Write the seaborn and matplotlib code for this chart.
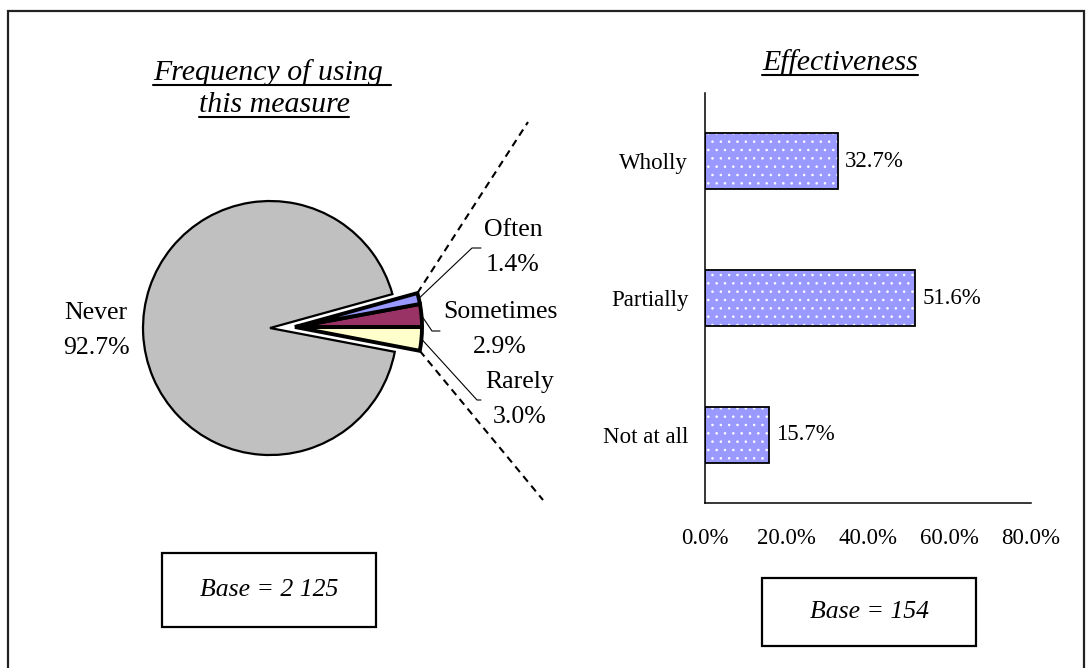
import numpy as np
import pandas as pd
import seaborn as sns
import matplotlib.pyplot as plt
from matplotlib.patches import Rectangle

# pie: frequency of using this measure (drawing order, counter-clockwise)
pie_categories = ["Rarely", "Sometimes", "Often", "Never"]
pie_values = [3.0, 2.9, 1.4, 92.7]
pie_colors = ["#FFFFCC", "#993366", "#9999FF", "#C0C0C0"]

# bars: effectiveness
bar_categories = ["Wholly", "Partially", "Not at all"]
bar_values = [32.7, 51.6, 15.7]
x_ticks = [0, 20, 40, 60, 80]

base_left = "Base = 2 125"
base_right = "Base = 154"

sns.set_theme(style="white")
plt.rcParams["font.family"] = ["Liberation Serif", "DejaVu Sans"]
plt.rcParams["text.color"] = "black"
plt.rcParams["xtick.color"] = "black"
plt.rcParams["ytick.color"] = "black"
plt.rcParams["xtick.labelcolor"] = "black"
plt.rcParams["ytick.labelcolor"] = "black"
plt.rcParams["hatch.linewidth"] = 0.6

W, H = 1086, 668
fig = plt.figure(figsize=(W / 100, H / 100), dpi=100)
fig.patch.set_facecolor("white")


def Y(y):
    # pixel row from top -> data y from bottom
    return H - y


bg = fig.add_axes([0, 0, 1, 1])
wedges, _ = bg.pie(pie_values, colors=pie_colors, startangle=-10.8,
                   center=(295, Y(327)), radius=127,
                   explode=[0, 0, 0, 25],
                   wedgeprops=dict(edgecolor="black", linewidth=1.6))
for w in wedges[:3]:
    w.set_linewidth(2.8)
    w.set_joinstyle("miter")
bg.set_xlim(0, W)
bg.set_ylim(0, H)
bg.axis("off")

# outer frame
bg.add_patch(Rectangle((8, -20), 1076, Y(11) + 20, fill=False,
                       edgecolor="#222222", lw=1.6))

# labels with leader lines
lab_fs = 18.5
label_pos = {"Often": (513, 230), "Sometimes": (500, 312),
             "Rarely": (520, 382), "Never": (96, 313)}
leader_elbow = {"Often": [(472, 248), (481, 248)],
                "Sometimes": [(432, 331), (440, 331)],
                "Rarely": [(477, 400), (481, 400)]}
for w, cat, val in zip(wedges, pie_categories, pie_values):
    lx, ly = label_pos[cat]
    bg.text(lx, Y(ly), cat, ha="center", va="center", fontsize=lab_fs)
    bg.text(lx, Y(ly + 35), f"{val:.1f}%", ha="center", va="center",
            fontsize=lab_fs)
    if cat in leader_elbow:
        mid = np.deg2rad((w.theta1 + w.theta2) / 2)
        cx, cy = w.center
        sx, sy = cx + w.r * np.cos(mid), cy + w.r * np.sin(mid)
        pts = [(sx, sy)] + [(px, Y(py)) for px, py in leader_elbow[cat]]
        bg.plot([p[0] for p in pts], [p[1] for p in pts], color="black",
                lw=0.8)

# dashed connector lines from the small slices
w_top, w_bot = wedges[2], wedges[0]
for w, ang, end in [(w_top, w_top.theta2, (528, 122)),
                    (w_bot, w_bot.theta1, (543, 500))]:
    a = np.deg2rad(ang)
    cx, cy = w.center
    bg.plot([cx + w.r * np.cos(a), end[0]], [cy + w.r * np.sin(a), Y(end[1])],
            color="black", lw=1.5, linestyle=(0, (3.5, 2.5)))

# titles (italic, underlined)
title_fs = 21.5
titles = [("Frequency of using ", 272, 80), ("this measure", 274, 112),
          ("Effectiveness", 840, 70)]
title_objs = []
for txt, tx, ty in titles:
    t = bg.text(tx, Y(ty), txt, ha="center", va="baseline",
                fontsize=title_fs, style="italic")
    title_objs.append((t, ty))

# base boxes
for txt, (x0, y0, x1, y1) in [(base_left, (162, 553, 376, 627)),
                              (base_right, (762, 578, 976, 646))]:
    bg.add_patch(Rectangle((x0, Y(y1)), x1 - x0, y1 - y0, fill=False,
                           edgecolor="black", lw=1.6))
    bg.text((x0 + x1) / 2, Y((y0 + y1) / 2), txt, ha="center", va="center",
            fontsize=lab_fs, style="italic")

# bar chart
axb = fig.add_axes([705 / W, Y(503) / H, 326 / W, 410 / H])
axb.patch.set_alpha(0)
df = pd.DataFrame({"cat": bar_categories, "pct": bar_values})
sns.barplot(data=df, x="pct", y="cat", orient="h", color="#9999FF",
            saturation=1, width=0.41, ax=axb, linewidth=0)
for p in list(axb.patches):
    p.set_facecolor("#9999FF")
    p.set_hatch("..")
    p.set_edgecolor("white")
    p.set_linewidth(0)
    axb.add_patch(Rectangle(p.get_xy(), p.get_width(), p.get_height(),
                            fill=False, edgecolor="black", lw=1.3, zorder=3))
axb.bar_label(axb.containers[0], labels=[f"{v:.1f}%" for v in bar_values],
              padding=5, fontsize=16.5, color="black")

axb.set_xlim(0, 80)
axb.set_ylim(len(bar_categories) - 0.5, -0.5)
axb.set_xticks(x_ticks)
axb.set_xticklabels([f"{v:.1f}%" for v in x_ticks])
axb.set_yticks(np.arange(len(bar_categories) + 1) - 0.5)
axb.set_yticklabels([])
axb.set_yticks(np.arange(len(bar_categories)), minor=True)
axb.set_yticklabels(bar_categories, minor=True)
axb.tick_params(axis="y", which="minor", length=0, pad=12, labelsize=16.5)
axb.tick_params(axis="y", which="major", direction="in", length=5, width=1,
                color="black")
axb.tick_params(axis="x", direction="in", length=5, width=1, color="black",
                pad=18, labelsize=16.5)
axb.set_xlabel("")
axb.set_ylabel("")
for side in ["top", "right"]:
    axb.spines[side].set_visible(False)
for side in ["left", "bottom"]:
    axb.spines[side].set_color("black")
    axb.spines[side].set_linewidth(1.1)

# underline the titles using their drawn extents
fig.canvas.draw()
renderer = fig.canvas.get_renderer()
for t, ty in title_objs:
    bb = t.get_window_extent(renderer)
    bg.plot([bb.x0, bb.x1], [Y(ty + 5), Y(ty + 5)], color="black", lw=1.5)

fig.savefig("out.png", dpi=100, facecolor="white")
